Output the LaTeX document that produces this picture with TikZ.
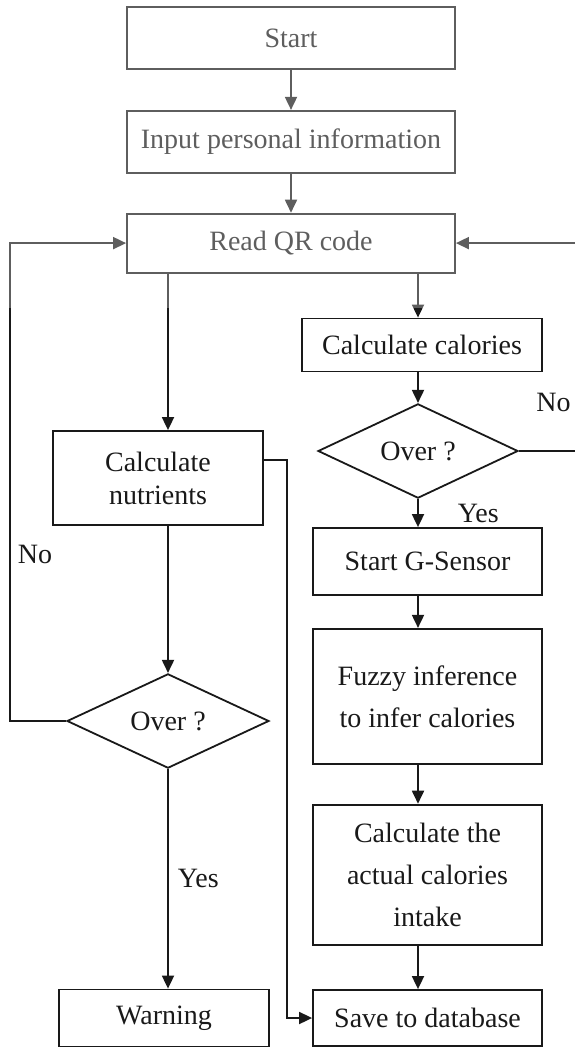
\documentclass[tikz,border=0pt]{standalone}
\usepackage{fontspec}
\setmainfont{Liberation Serif}
\usetikzlibrary{positioning,arrows.meta,shapes.geometric}
\tikzset{
>={Triangle[length=13pt,width=12pt]},
}

\begin{document}
\begin{tikzpicture}[x=1pt,y=-1pt]
    \tikzset{
        every node/.style={font=\fontsize{28}{42}\selectfont, text=black!90},
        action/.style={rectangle, draw=black!90, line width=1.8pt, inner sep=0pt, text centered, align=center},
        condition/.style={diamond, draw=black!90, line width=1.8pt, inner sep=0pt, minimum width=202pt, minimum height=93pt},
        answer/.style={inner sep=0pt},
        myarrow/.style={draw=black!90, ->, line width=1.8pt},
    }
    \useasboundingbox (0,0) rectangle (575,1050);

    \node[action, minimum width=328pt, minimum height=62pt] (itemStart) at (291,38) {Start};
    \node[action, minimum width=328pt, minimum height=62pt, below=40pt of itemStart] (itemInput) {Input personal information};
    \node[action, minimum width=328pt, minimum height=59pt, below=39pt of itemInput] (itemRead) {Read QR code};

    % left side
    \node[action, minimum width=210pt, minimum height=94pt, font=\fontsize{28}{33}\selectfont] (itemNutr) at (158,478) {Calculate\\nutrients};
    \node[condition] (itemOverL) at (168,721) {Over ?};
    \node[action, minimum width=210pt, minimum height=57pt] (itemWarn) at (164,1018) {Warning};

    % right side
    \node[action, minimum width=240pt, minimum height=53pt] (itemCal) at (422,345) {Calculate calories};
    \node[condition, minimum width=200pt, minimum height=92pt] (itemOverR) at (418,451) {Over ?};
    \node[action, minimum width=229pt, minimum height=67pt] (itemSensor) at (427.5,561.5) {Start G-Sensor};
    \node[action, minimum width=229pt, minimum height=135pt, below=32pt of itemSensor] (itemFuzzy) {Fuzzy inference\\to infer calories};
    \node[action, minimum width=229pt, minimum height=140pt, below=39pt of itemFuzzy] (itemActual) {Calculate the\\actual calories\\intake};
    \node[action, minimum width=229pt, minimum height=56pt] (itemSave) at (427.5,1018) {Save to database};

    \coordinate (AuxLeft) at (10,721);
    \coordinate (AuxRight) at (580,451);
    \coordinate (AuxMid) at (287,460);

    \path[myarrow] (itemStart) -- (itemInput);
    \path[myarrow] (itemInput) -- (itemRead);
    \path[myarrow] (itemRead.south -| itemOverL) -- (itemNutr.north -| itemOverL);
    \path[myarrow] (itemNutr.south -| itemOverL) -- (itemOverL.north);
    \path[myarrow] (itemOverL.south) -- node[answer, midway, right=9pt] {Yes} (itemWarn.north -| itemOverL);
    \path[myarrow] (itemOverL.west) -- (AuxLeft) |- node[answer, pos=0.174, right=7pt] {No} (itemRead.west);
    \path[myarrow] (itemNutr.east |- AuxMid) -- (AuxMid) |- (itemSave.west);

    \path[myarrow] (itemRead.south -| itemOverR) -- (itemCal.north -| itemOverR);
    \path[myarrow] (itemCal.south -| itemOverR) -- (itemOverR.north);
    \path[myarrow] (itemOverR.south) -- node[answer, midway, right=39pt] {Yes} (itemSensor.north -| itemOverR);
    \path[myarrow] (itemOverR.east) -- node[answer, pos=0.565, above=38pt] {No} (AuxRight) |- (itemRead.east);
    \path[myarrow] (itemSensor.south -| itemOverR) -- (itemFuzzy.north -| itemOverR);
    \path[myarrow] (itemFuzzy.south -| itemOverR) -- (itemActual.north -| itemOverR);
    \path[myarrow] (itemActual.south -| itemOverR) -- (itemSave.north -| itemOverR);

    % faded top band
    \fill[white, fill opacity=0.3] (0,0) rectangle (575,308);
\end{tikzpicture}
\end{document}
